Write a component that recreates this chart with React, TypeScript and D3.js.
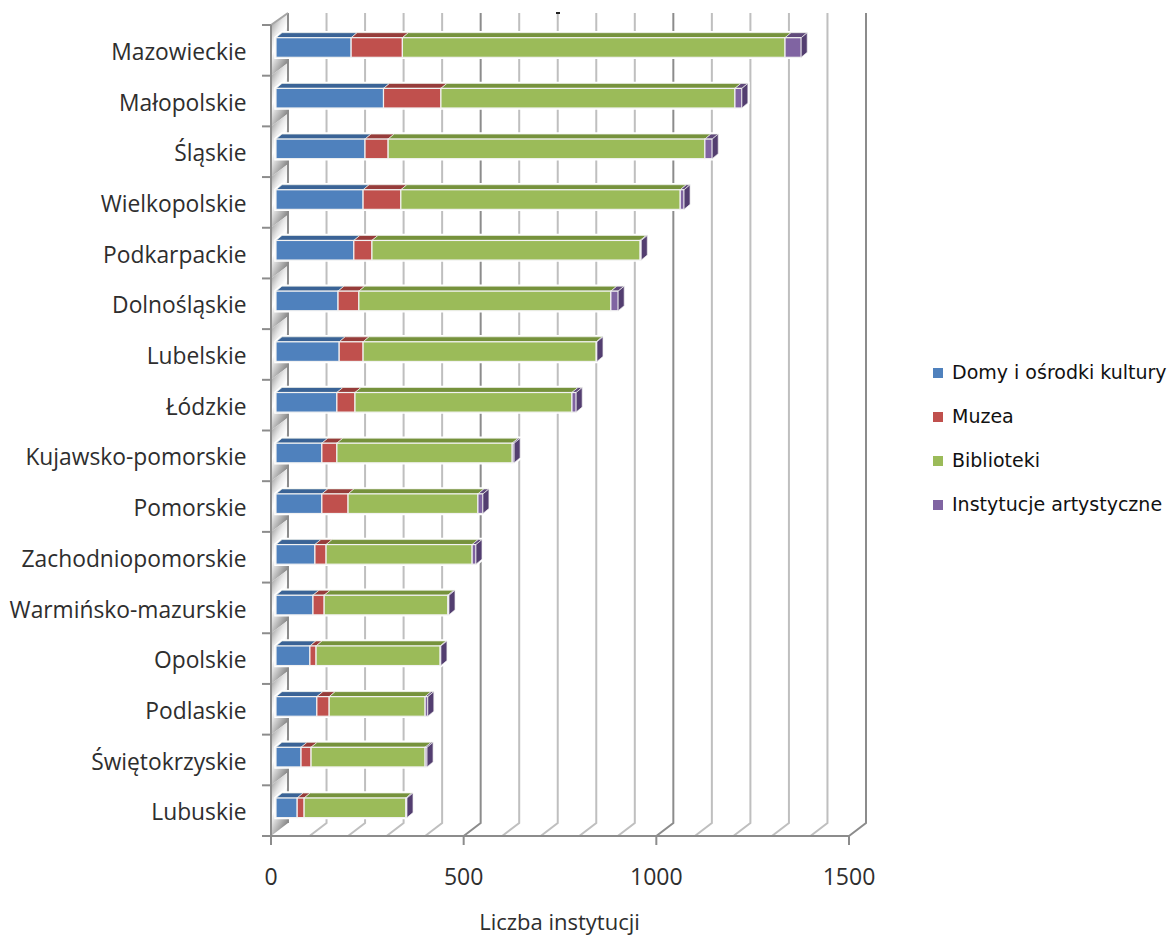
import React from "react";
import * as d3 from "d3";

const categories = ["Mazowieckie","Małopolskie","Śląskie","Wielkopolskie","Podkarpackie","Dolnośląskie","Lubelskie","Łódzkie","Kujawsko-pomorskie","Pomorskie","Zachodniopomorskie","Warmińsko-mazurskie","Opolskie","Podlaskie","Świętokrzyskie","Lubuskie"];
const domy = [195,279,231,226,202,161,164,158,119,119,101,96,88,106,65,55];
const muzea = [133,149,60,98,47,54,62,47,39,68,29,29,16,32,26,18];
const biblioteki = [993,763,822,725,696,654,605,563,455,337,379,321,322,249,296,264];
const artystyczne = [42,18,19,10,3,19,2,11,5,13,10,3,2,7,5,3];
const seriesNames = ["Domy i ośrodki kultury","Muzea","Biblioteki","Instytucje artystyczne"];
const frontColors = ["#4F81BD","#C0504D","#9BBB59","#8064A2"];
const topColors = ["#3A6396","#963C3A","#76923C","#604A7B"];
const xTicks = [0,500,1000,1500];
const gridValues = d3.range(0,1501,100);

const FONT = "'Open Sans', sans-serif";
const TEXT = "#2e2e2e";
const x = d3.scaleLinear().domain([0,1500]).range([271,849]);
const y = d3.scaleBand<string>().domain(categories).range([25,836]);
const DX = 17, DY = 13;
const BX = 5, dx = 6, dy = 5, barH = 19.6, barOff = 12.7;

const rows = categories.map((c,i)=>({c,a:domy[i],b:muzea[i],d:biblioteki[i],e:artystyczne[i]}));
const stacked = d3.stack<any>().keys(["a","b","d","e"])(rows);
const legendY = [373,417,461,505];
const pts = (p:number[][]) => p.map(q=>q.join(",")).join(" ");

export default function App(){
  const bw = y.bandwidth();
  return (
    <svg width={1168} height={939} style={{position:"absolute",left:0,top:0,background:"#fff"}}>
      <defs>
        <linearGradient id="wall" x1="0" y1="0" x2="0.5" y2="1">
          <stop offset="0" stopColor="#808080"/>
          <stop offset="0.38" stopColor="#e8e8e8"/>
          <stop offset="0.55" stopColor="#ffffff"/>
          <stop offset="1" stopColor="#8e8e8e"/>
        </linearGradient>
      </defs>
      {categories.map(c=>{
        const t=y(c)!;
        return <polygon key={c} fill="url(#wall)" points={pts([[x(0),t+bw],[x(0),t],[x(0)+DX,t-DY],[x(0)+DX,t+bw-DY]])}/>;
      })}
      <line x1={x(0)+DX} x2={x(0)+DX} y1={13} y2={836-DY} stroke="#8c8c8c" strokeWidth={2}/>
      <line x1={x(0)} x2={x(0)+DX} y1={25} y2={13} stroke="#a6a6a6" strokeWidth={2}/>
      {gridValues.map(v=>{
        const dark = v%500===0;
        const col = dark?"#8c8c8c":"#bfbfbf";
        return <g key={v} fill="none" stroke={col} strokeWidth={2}>
          {v>0 && <polyline points={pts([[x(v),836],[x(v)+DX,836-DY],[x(v)+DX,13]])}/>}
        </g>;
      })}
      <line x1={x(0)} x2={x(0)} y1={25} y2={845} stroke="#8c8c8c" strokeWidth={2}/>
      <line x1={262} x2={x(1500)} y1={836} y2={836} stroke="#8c8c8c" strokeWidth={2}/>
      {d3.range(0,17).map(i=>{
        const t=25+i*bw;
        return <line key={i} x1={262} x2={x(0)} y1={t} y2={t} stroke="#8c8c8c" strokeWidth={2}/>;
      })}
      {xTicks.map(v=><line key={v} x1={x(v)} x2={x(v)} y1={836} y2={845} stroke="#8c8c8c" strokeWidth={2}/>)}
      {categories.map((c,i)=>{
        const top=y(c)!+barOff, bot=top+barH;
        const x0=x(0)+BX, x1=x(stacked[3][i][1])-x(0)+x0;
        return <g key={c}>
          <polygon fill="#fff" stroke="#fff" strokeWidth={3.5} points={pts([[x0,bot],[x0,top],[x0+dx,top-dy],[x1+dx,top-dy],[x1+dx,bot-dy],[x1,bot]])}/>
          {stacked.map((s,k)=>{
            const a=x(s[i][0])-x(0)+x0, b=x(s[i][1])-x(0)+x0;
            return <g key={k}>
              <polygon fill={topColors[k]} stroke="#eef0ea" strokeWidth={0.7} points={pts([[a,top],[a+dx,top-dy],[b+dx,top-dy],[b,top]])}/>
              <rect x={a} y={top} width={b-a} height={barH} fill={frontColors[k]} stroke="#f2f2f2" strokeWidth={1.2}/>
            </g>;
          })}
          <polygon fill="#533E70" stroke="#eee" strokeWidth={0.7} points={pts([[x1,top],[x1+dx,top-dy],[x1+dx,bot-dy],[x1,bot]])}/>
          <text x={246.5} y={y(c)!+bw/2+3.5} textAnchor="end" dominantBaseline="middle" fontFamily={FONT} fontSize={22.8} fill={TEXT}>{c}</text>
        </g>;
      })}
      {xTicks.map(v=><text key={v} x={x(v)} y={879} textAnchor="middle" dominantBaseline="middle" fontFamily={FONT} fontSize={23} fill={TEXT}>{v}</text>)}
      <text x={559.5} y={924} textAnchor="middle" dominantBaseline="middle" fontFamily={FONT} fontSize={22} fill={TEXT}>Liczba instytucji</text>
      {seriesNames.map((n,i)=><g key={n}>
        <rect x={933} y={legendY[i]-5} width={10} height={10} fill={frontColors[i]}/>
        <text x={952} y={legendY[i]} dominantBaseline="middle" fontFamily="'DejaVu Sans', sans-serif" fontSize={19} fill="#111">{n}</text>
      </g>)}
      <rect x={556} y={12} width={4} height={2} fill="#222"/>
    </svg>
  );
}
